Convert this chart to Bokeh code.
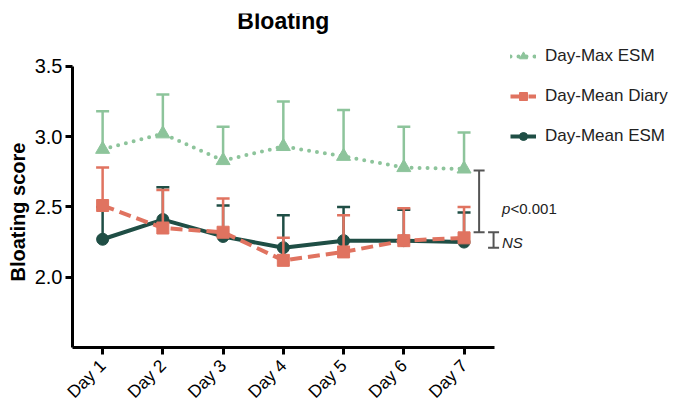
from bokeh.plotting import figure
from bokeh.models import (Range1d, FixedTicker, PrintfTickFormatter, Label, Whisker,
                          TeeHead, ColumnDataSource, Legend, LegendItem, Title)
from bokeh.embed import file_html
from bokeh.resources import INLINE
import math

# ---- data ----
days = [1, 2, 3, 4, 5, 6, 7]
day_labels = ["Day 1", "Day 2", "Day 3", "Day 4", "Day 5", "Day 6", "Day 7"]

max_esm = [2.91, 3.02, 2.83, 2.93, 2.86, 2.78, 2.77]
max_esm_upper = [3.18, 3.30, 3.07, 3.25, 3.19, 3.07, 3.03]

mean_diary = [2.51, 2.35, 2.32, 2.12, 2.18, 2.26, 2.28]
mean_diary_upper = [2.78, 2.62, 2.56, 2.28, 2.44, 2.49, 2.50]

mean_esm = [2.27, 2.41, 2.29, 2.21, 2.26, 2.26, 2.25]
mean_esm_upper = [2.50, 2.64, 2.51, 2.44, 2.50, 2.48, 2.46]

y_ticks = [2.0, 2.5, 3.0, 3.5]

# significance brackets (x position, lower, upper)
brk_x = [7.25, 7.49]
brk_lo = [2.32, 2.21]
brk_hi = [2.76, 2.32]

GREEN = "#8dc49b"
RED = "#e07360"
DARK = "#1f4e45"
FONT = "Liberation Sans"

p = figure(width=678, height=411, output_backend="svg", toolbar_location=None,
           x_range=Range1d(0.5, 10.56), y_range=Range1d(1.5, 3.876),
           min_border_left=72, min_border_right=0, min_border_top=13, min_border_bottom=63)
p.outline_line_color = None
p.grid.visible = False
p.background_fill_color = "white"

# axes
p.xaxis.ticker = FixedTicker(ticks=days)
p.xaxis.major_label_overrides = {d: l for d, l in zip(days, day_labels)}
p.xaxis.bounds = (0.5, 7.5)
p.xaxis.major_label_orientation = math.pi / 4
p.xaxis.major_label_text_font_size = "17.5px"
p.yaxis.ticker = FixedTicker(ticks=y_ticks)
p.yaxis.formatter = PrintfTickFormatter(format="%.1f")
p.yaxis.bounds = (1.5, 3.5)
p.yaxis.major_label_text_font_size = "20px"
for ax in (p.xaxis, p.yaxis):
    ax.axis_line_width = 3
    ax.axis_line_color = "black"
    ax.major_tick_line_width = 3
    ax.major_tick_line_color = "black"
    ax.major_tick_out = 7
    ax.major_tick_in = 0
    ax.minor_tick_line_color = None
    ax.major_label_text_font = FONT
    ax.major_label_text_color = "black"
    ax.major_label_standoff = 3
p.xaxis.major_label_standoff = 8


def series(vals, upper, color, marker, msize, dash, cap="butt"):
    line = p.line(days, vals, line_color=color, line_width=4, line_dash=dash, line_cap=cap)
    p.segment(days, vals, days, upper, line_color=color, line_width=2.5)
    p.scatter(days, upper, marker="dash", size=13, line_color=color, line_width=2.5)
    mk = p.scatter(days, vals, marker=marker, size=msize, fill_color=color, line_color=color)
    return line, mk


g_line, g_mk = series(max_esm, max_esm_upper, GREEN, "triangle", 14, "0 8", cap="round")
d_line, d_mk = series(mean_esm, mean_esm_upper, DARK, "circle", 12, "solid")
r_line, r_mk = series(mean_diary, mean_diary_upper, RED, "square", 12, "12 6")

legend = Legend(items=[
    LegendItem(label="Day-Max ESM", renderers=[g_line, g_mk]),
    LegendItem(label="Day-Mean Diary", renderers=[r_line, r_mk]),
    LegendItem(label="Day-Mean ESM", renderers=[d_line, d_mk]),
], location=(438, 201))
legend.label_text_font = FONT
legend.label_text_font_size = "17px"
legend.label_text_color = "#222222"
legend.glyph_width = 26
legend.glyph_height = 20
legend.label_height = 20
legend.spacing = 20
legend.padding = 0
legend.margin = 0
legend.label_standoff = 9
legend.border_line_color = None
legend.background_fill_alpha = 0
p.add_layout(legend)

# brackets
bsrc = ColumnDataSource(dict(x=brk_x, lo=brk_lo, hi=brk_hi))
p.add_layout(Whisker(source=bsrc, base="x", lower="lo", upper="hi", dimension="height",
                     line_color="#555555", line_width=2,
                     upper_head=TeeHead(size=11, line_color="#555555", line_width=2),
                     lower_head=TeeHead(size=11, line_color="#555555", line_width=2)))

p.add_layout(Label(x=7.63, y=2.49, text="p", text_font=FONT, text_font_style="italic",
                   text_font_size="15px", text_baseline="middle", text_color="#222222"))
p.add_layout(Label(x=7.63, y=2.49, x_offset=8.5, text="<0.001", text_font=FONT,
                   text_font_size="15px", text_baseline="middle", text_color="#222222"))
p.add_layout(Label(x=7.63, y=2.25, text="NS", text_font=FONT, text_font_style="italic",
                   text_font_size="15px", text_baseline="middle", text_color="#222222"))

# chart title
p.add_layout(Label(x=4.0, y=3.82, text="Bloating", text_font=FONT, text_font_style="bold",
                   text_font_size="23px", text_align="center", text_baseline="middle",
                   text_color="black"))

# y-axis title, centred on the axis line (not the whole frame)
p.add_layout(Title(text="Bloating score", align="left", offset=66, standoff=6,
                   text_font=FONT, text_font_style="bold", text_font_size="20px",
                   text_color="black"), "left")

open("out.html", "w").write(file_html(p, INLINE))
